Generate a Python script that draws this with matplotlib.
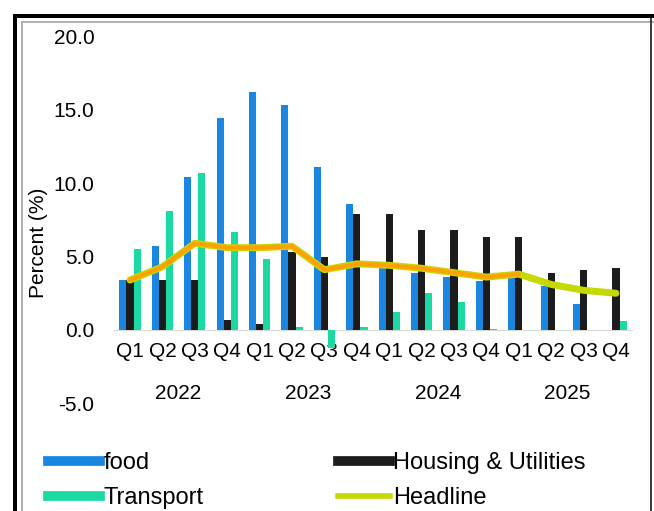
import numpy as np
import matplotlib
matplotlib.use("Agg")
import matplotlib.pyplot as plt
from matplotlib.lines import Line2D
from matplotlib.patches import Rectangle
from matplotlib.ticker import FormatStrFormatter

plt.rcParams['font.family'] = ['Liberation Sans', 'DejaVu Sans']

quarters = ["Q1", "Q2", "Q3", "Q4"] * 4
years = ["2022", "2023", "2024", "2025"]
food = [3.4, 5.7, 10.4, 14.4, 16.2, 15.3, 11.1, 8.6, 4.2, 3.9, 3.6, 3.3, 3.6, 3.0, 1.8, np.nan]
housing = [3.4, 3.4, 3.4, 0.7, 0.4, 5.3, 5.0, 7.9, 7.9, 6.8, 6.8, 6.3, 6.3, 3.9, 4.1, 4.2]
transport = [5.5, 8.1, 10.7, 6.7, 4.8, 0.2, -1.2, 0.2, 1.2, 2.5, 1.9, 0.1, 0.0, 0.0, 0.0, 0.6]
headline = [3.4, 4.3, 5.9, 5.6, 5.6, 5.7, 4.1, 4.5, 4.4, 4.2, 3.9, 3.6, 3.8, 3.1, 2.7, 2.5]
orange_series = [3.4, 4.3, 5.9, 5.6, 5.6, 5.7, 4.1, 4.5, 4.4, 4.2, 3.9, 3.6, 3.8]
yticks = [-5.0, 0.0, 5.0, 10.0, 15.0, 20.0]

c_food = '#1a86e0'
c_housing = '#1c1c1c'
c_transport = '#1ad9a2'
c_headline = '#c5d800'
c_orange = '#ffa000'

fig = plt.figure(figsize=(6.54, 5.11), dpi=100)
ax = fig.add_axes([0.174, 0.2104, 0.7927, 0.7191])

x = np.arange(len(quarters))
w = 0.22
ax.bar(x - w, food, w, color=c_food, zorder=3)
ax.bar(x, housing, w, color=c_housing, zorder=3)
ax.bar(x + w, transport, w, color=c_transport, zorder=3)
ax.plot(x, headline, color=c_headline, lw=5, zorder=4, solid_capstyle='round')
ax.plot(x[:len(orange_series)], orange_series, color=c_orange, lw=3, zorder=5,
        solid_capstyle='round')

ax.set_xlim(-0.5, len(quarters) - 0.5)
ax.set_ylim(-5, 20)
ax.set_yticks(yticks)
ax.yaxis.set_major_formatter(FormatStrFormatter('%.1f'))
ax.set_xticks(x)
ax.set_xticklabels(quarters)
for s in ['top', 'right', 'left']:
    ax.spines[s].set_visible(False)
ax.spines['bottom'].set_position(('data', 0))
ax.spines['bottom'].set_color('#d9d9d9')
ax.spines['bottom'].set_zorder(2)
ax.tick_params(axis='x', length=0, pad=9, labelsize=15)
ax.tick_params(axis='y', length=0, pad=14, labelsize=15)

for i, yr in enumerate(years):
    ax.text(4 * i + 1.5, -4.3, yr, ha='center', va='center', fontsize=15)

fig.text(38 / 654, 1 - 243 / 511, "Percent (%)", rotation=90, ha='center',
         va='center', fontsize=15)

h_food = Line2D([], [], color=c_food, lw=7)
h_trans = Line2D([], [], color=c_transport, lw=7)
h_house = Line2D([], [], color=c_housing, lw=7)
h_head = Line2D([], [], color=c_headline, lw=4)
leg_kw = dict(frameon=False, fontsize=17, handlelength=2.2, handletextpad=0.15,
              labelspacing=0.55, borderpad=0, borderaxespad=0, loc='upper left')
fig.legend([h_food, h_trans], ["food", "Transport"],
           bbox_to_anchor=(48 / 654, 1 - 452 / 511), **leg_kw)
fig.legend([h_house, h_head], ["Housing & Utilities", "Headline"],
           bbox_to_anchor=(338 / 654, 1 - 452 / 511), **leg_kw)

# outer frame
fig.add_artist(Rectangle((13 / 654, 0), 4 / 654, 1 - 14 / 511, transform=fig.transFigure,
                         color='black', lw=0))
fig.add_artist(Rectangle((13 / 654, 1 - 18 / 511), 1, 4 / 511, transform=fig.transFigure,
                         color='black', lw=0))
fig.add_artist(Rectangle((21 / 654, 0), 1.5 / 654, 1 - 22 / 511, transform=fig.transFigure,
                         color='#b0b0b0', lw=0))
fig.add_artist(Rectangle((21 / 654, 1 - 23 / 511), 1, 1.5 / 511, transform=fig.transFigure,
                         color='#b0b0b0', lw=0))
fig.add_artist(Rectangle((650 / 654, 0), 2 / 654, 1 - 18 / 511, transform=fig.transFigure,
                         color='#404040', lw=0))

fig.savefig("out.png", dpi=100)
